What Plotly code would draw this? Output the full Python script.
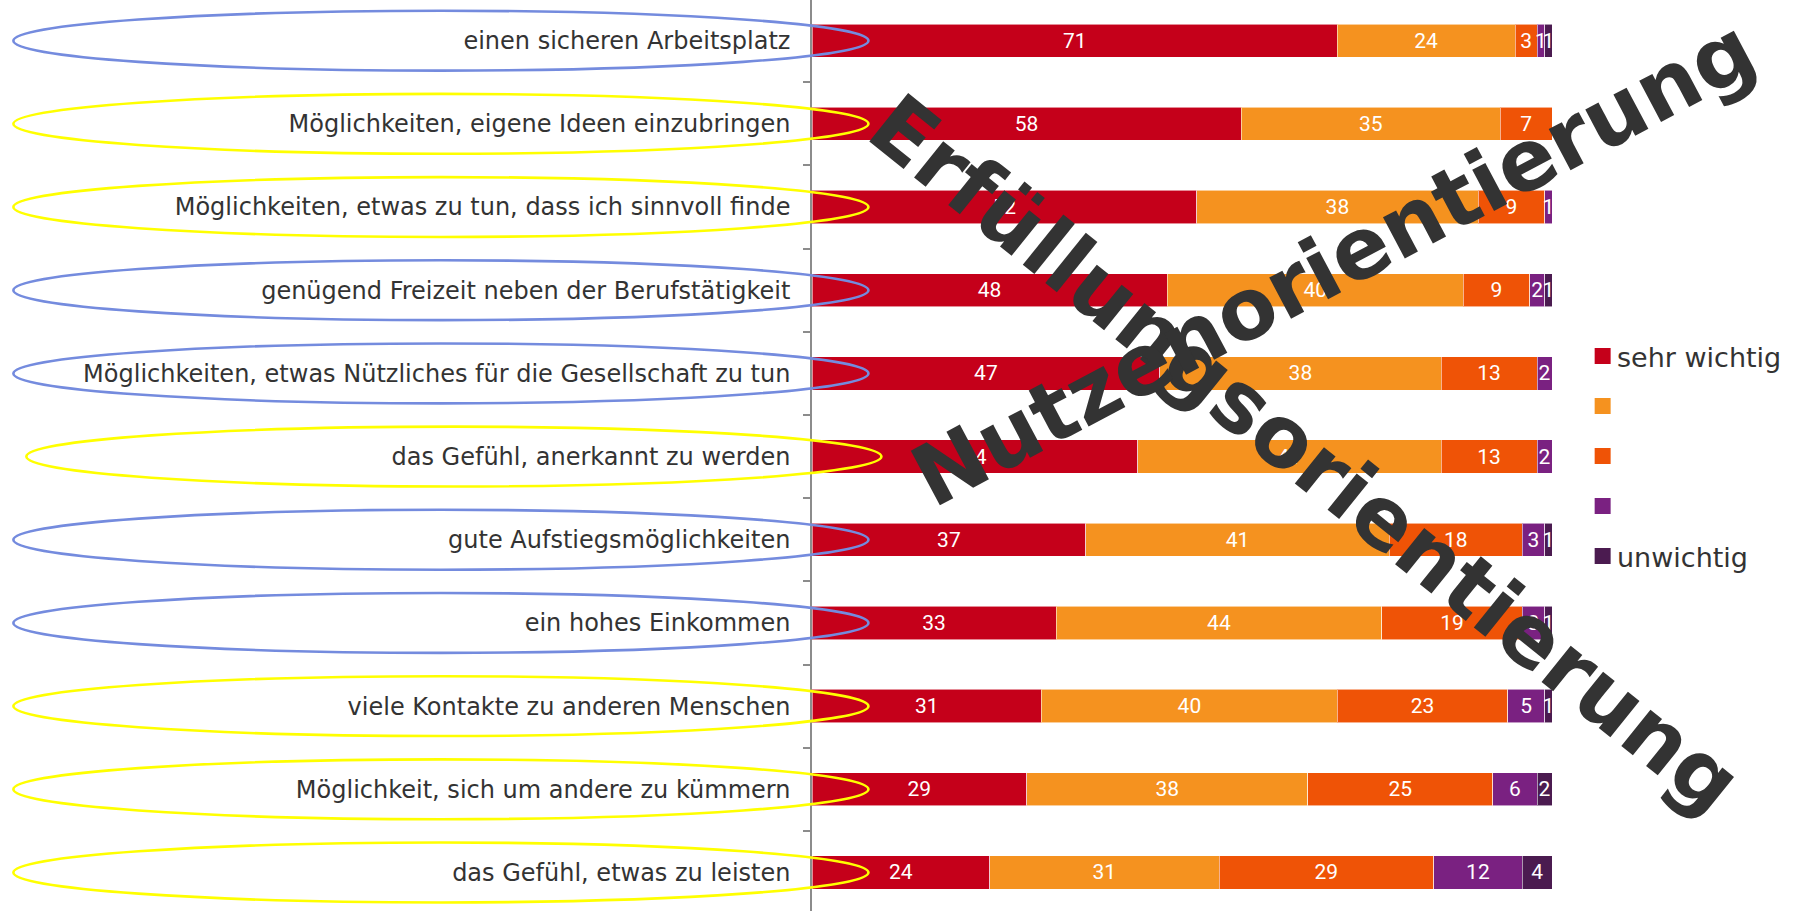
import plotly.graph_objects as go

# ---------------- data ----------------
kategorien = [
    "einen sicheren Arbeitsplatz",
    "Möglichkeiten, eigene Ideen einzubringen",
    "Möglichkeiten, etwas zu tun, dass ich sinnvoll finde",
    "genügend Freizeit neben der Berufstätigkeit",
    "Möglichkeiten, etwas Nützliches für die Gesellschaft zu tun",
    "das Gefühl, anerkannt zu werden",
    "gute Aufstiegsmöglichkeiten",
    "ein hohes Einkommen",
    "viele Kontakte zu anderen Menschen",
    "Möglichkeit, sich um andere zu kümmern",
    "das Gefühl, etwas zu leisten",
]
sehr_wichtig = [71, 58, 52, 48, 47, 44, 37, 33, 31, 29, 24]
stufe_2      = [24, 35, 38, 40, 38, 41, 41, 44, 40, 38, 31]
stufe_3      = [3, 7, 9, 9, 13, 13, 18, 19, 23, 25, 29]
stufe_4      = [1, 0, 1, 2, 2, 2, 3, 3, 5, 6, 12]
unwichtig    = [1, 0, 0, 1, 0, 0, 1, 1, 1, 2, 4]
serien_namen = ["sehr wichtig", "", "", "", "unwichtig"]
# N = Nutzenorientierung (blau), E = Erfüllungsorientierung (gelb)
gruppe = ["N", "E", "E", "N", "N", "E", "N", "N", "E", "E", "E"]
overlay_texte = ["Erfüllungsorientierung", "Nutzenorientierung"]

# ---------------- style ----------------
farben = ["#C5001A", "#F5921F", "#EF5306", "#7A2181", "#4B1B50"]
ellipsen_farbe = {"N": "#748BDE", "E": "#FFFF00"}
W, H = 1798, 911
L, R = 811.5, 1552.3


def px2paper(px, py):
    return (px - L) / (R - L), 1 - py / H


fig = go.Figure()
for name, werte, farbe in zip(serien_namen,
                              [sehr_wichtig, stufe_2, stufe_3, stufe_4, unwichtig],
                              farben):
    fig.add_trace(go.Bar(
        y=kategorien, x=werte, name=name or " ", orientation="h",
        marker=dict(color=farbe, line=dict(color="rgba(255,255,255,0.55)", width=1)),
        text=[str(v) for v in werte], textposition="inside",
        insidetextanchor="middle", textangle=0, constraintext="none",
        textfont=dict(family="Roboto", size=21, color="white"),
        hoverinfo="x+y", showlegend=False,
    ))

shapes = []
for i, g in enumerate(gruppe):
    x0px = 25 if i == 5 else 12
    x1px = 881 if i == 5 else 868
    shapes.append(dict(
        type="circle", xref="paper", yref="y",
        x0=(x0px - L) / (R - L), x1=(x1px - L) / (R - L),
        y0=i - 0.36, y1=i + 0.36,
        line=dict(color=ellipsen_farbe[g], width=2.6),
        layer="above",
    ))

annotations = []
# legend (drawn manually to match square size and spacing)
for k, (name, farbe) in enumerate(zip(serien_namen, farben)):
    cy = 356 + 50 * k
    sx0, sy0 = px2paper(1595, cy - 8)
    sx1, sy1 = px2paper(1611, cy + 8)
    shapes.append(dict(type="rect", xref="paper", yref="paper",
                       x0=sx0, x1=sx1, y0=sy1, y1=sy0,
                       fillcolor=farbe, line=dict(width=0)))
    if name:
        tx, ty = px2paper(1615, cy + 1)
        annotations.append(dict(text=name, x=tx, y=ty, xref="paper", yref="paper",
                                showarrow=False, xanchor="left", yanchor="middle",
                                font=dict(family="DejaVu Sans", size=27, color="#333333")))

ax1, ay1 = px2paper(1306, 454)
ax2, ay2 = px2paper(1334, 262)
annotations += [
    dict(text=overlay_texte[0], x=ax1, y=ay1, xref="paper", yref="paper",
         showarrow=False, textangle=38.8, xanchor="center", yanchor="middle",
         font=dict(family="DejaVu Sans", size=85, color="#333333", weight="bold")),
    dict(text=overlay_texte[1], x=ax2, y=ay2, xref="paper", yref="paper",
         showarrow=False, textangle=-28, xanchor="center", yanchor="middle",
         font=dict(family="DejaVu Sans", size=85, color="#333333", weight="bold")),
]

fig.update_layout(
    width=W, height=H,
    barmode="stack", bargap=0.6,
    plot_bgcolor="white", paper_bgcolor="white",
    margin=dict(l=L, r=W - R, t=0, b=0, pad=0, autoexpand=False),
    shapes=shapes, annotations=annotations,
    showlegend=False,
    xaxis=dict(range=[0, 100], visible=False, fixedrange=True),
    yaxis=dict(
        type="category", range=[10.463, -0.489],
        showline=True, linecolor="#8c8c8c", linewidth=1.5,
        ticks="outside", ticklen=7, tickcolor="#8c8c8c", tickwidth=1.5,
        tickson="boundaries", ticklabelstandoff=15,
        tickfont=dict(family="DejaVu Sans", size=24, color="#333333"),
        showgrid=False, zeroline=False, fixedrange=True,
    ),
)

fig.write_html("out.html", config={"displayModeBar": False},
               post_script="document.body.style.margin='0';")
